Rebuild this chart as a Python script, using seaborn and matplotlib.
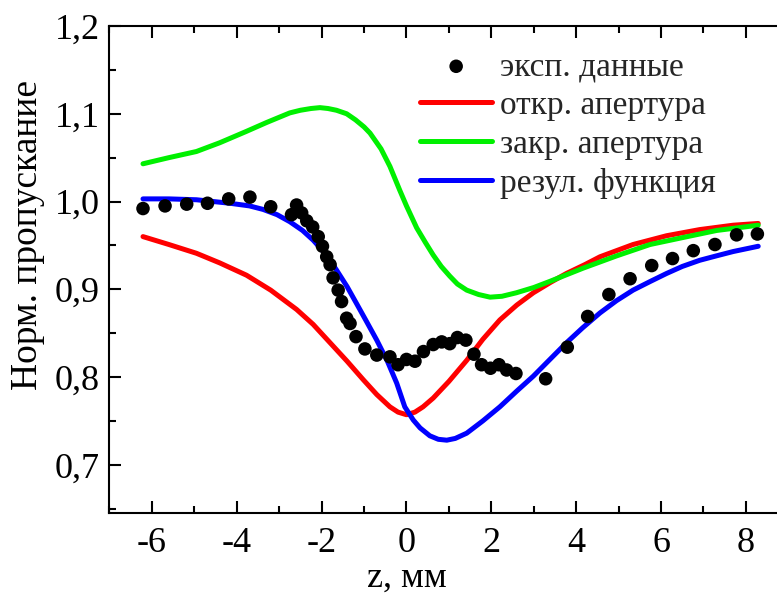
import numpy as np
import pandas as pd
import matplotlib
matplotlib.use("Agg")
import matplotlib.pyplot as plt
from matplotlib.ticker import MultipleLocator, FuncFormatter
import seaborn as sns

# Experimental Z-scan points
z_exp = [-6.21, -5.69, -5.18, -4.69, -4.19, -3.69, -3.20, -2.71, -2.59, -2.47,
         -2.35, -2.21, -2.08, -1.98, -1.88, -1.80, -1.73, -1.61, -1.53, -1.41,
         -1.33, -1.19, -0.98, -0.70, -0.39, -0.20, 0.00, 0.20, 0.40, 0.63,
         0.83, 1.02, 1.20, 1.40, 1.59, 1.77, 1.98, 2.18, 2.36, 2.58,
         3.28, 3.79, 4.27, 4.77, 5.27, 5.78, 6.27, 6.76, 7.27, 7.78, 8.27]
t_exp = [0.992, 0.995, 0.997, 0.998, 1.003, 1.005, 0.994, 0.985, 0.996, 0.987,
         0.978, 0.971, 0.960, 0.949, 0.937, 0.928, 0.913, 0.899, 0.886, 0.867,
         0.861, 0.846, 0.832, 0.825, 0.823, 0.814, 0.820, 0.818, 0.829, 0.837,
         0.840, 0.838, 0.845, 0.842, 0.826, 0.814, 0.810, 0.814, 0.808, 0.804,
         0.798, 0.834, 0.869, 0.894, 0.912, 0.927, 0.935, 0.944, 0.951, 0.962,
         0.963]

# Open-aperture fit
z_open = [-6.21, -5.6, -4.95, -4.4, -3.77, -3.2, -2.59, -2.2, -1.8, -1.4,
          -1.02, -0.7, -0.39, -0.2, 0.0, 0.2, 0.39, 0.63, 1.0, 1.42,
          1.8, 2.2, 2.6, 2.99, 3.4, 3.77, 4.2, 4.56, 5.34, 6.13,
          6.91, 7.70, 8.29]
t_open = [0.960, 0.951, 0.941, 0.930, 0.916, 0.899, 0.877, 0.860, 0.839, 0.818,
          0.797, 0.780, 0.766, 0.760, 0.757, 0.760, 0.766, 0.776, 0.795, 0.819,
          0.843, 0.865, 0.882, 0.896, 0.908, 0.918, 0.928, 0.937, 0.951, 0.961,
          0.968, 0.973, 0.975]

# Closed-aperture fit
z_closed = [-6.21, -5.6, -4.95, -4.4, -3.77, -3.3, -3.0, -2.75, -2.5, -2.25,
            -2.04, -1.85, -1.65, -1.41, -1.2, -1.0, -0.86, -0.6, -0.39, -0.16,
            0.0, 0.24, 0.45, 0.63, 0.82, 1.02, 1.2, 1.42, 1.7, 1.97,
            2.25, 2.59, 3.0, 3.38, 4.16, 4.95, 5.74, 6.52, 7.31, 8.29]
t_closed = [1.043, 1.050, 1.057, 1.067, 1.080, 1.090, 1.096, 1.101, 1.104, 1.106,
            1.107, 1.106, 1.104, 1.100, 1.093, 1.085, 1.078, 1.060, 1.040, 1.013,
            0.995, 0.970, 0.953, 0.939, 0.926, 0.915, 0.906, 0.899, 0.894, 0.891,
            0.892, 0.896, 0.902, 0.909, 0.924, 0.938, 0.951, 0.959, 0.967, 0.973]

# Combined (resulting) function
z_res = [-6.21, -5.6, -4.95, -4.16, -3.7, -3.38, -3.05, -2.75, -2.45, -2.2,
         -1.9, -1.65, -1.4, -1.18, -0.95, -0.7, -0.45, -0.23, -0.04, 0.16,
         0.32, 0.55, 0.75, 0.95, 1.15, 1.42, 1.8, 2.2, 2.6, 2.99,
         3.4, 3.77, 4.15, 4.56, 4.95, 5.34, 5.75, 6.13, 6.5, 6.91,
         7.3, 7.7, 8.29]
t_res = [1.003, 1.003, 1.002, 0.998, 0.995, 0.991, 0.985, 0.977, 0.967, 0.956,
         0.940, 0.922, 0.903, 0.884, 0.864, 0.842, 0.818, 0.793, 0.766, 0.751,
         0.742, 0.733, 0.729, 0.728, 0.730, 0.736, 0.750, 0.766, 0.784, 0.801,
         0.821, 0.839, 0.856, 0.873, 0.887, 0.899, 0.909, 0.918, 0.926, 0.933,
         0.938, 0.943, 0.949]

labels = ["эксп. данные", "откр. апертура", "закр. апертура", "резул. функция"]
colors = ["black", "#ff0000", "#00f000", "#0000ff"]

x_ticks = [-6, -4, -2, 0, 2, 4, 6, 8]
y_ticks = [0.7, 0.8, 0.9, 1.0, 1.1, 1.2]

sns.set_theme(style="ticks")
plt.rcParams["font.family"] = ["Liberation Serif", "DejaVu Serif"]
plt.rcParams["axes.unicode_minus"] = False

fig = plt.figure(figsize=(7.77, 6.01), dpi=100)
ax = fig.add_axes([0.1409, 0.1464, 0.8737, 0.8103])

df_exp = pd.DataFrame({"z": z_exp, "T": t_exp})
sns.scatterplot(data=df_exp, x="z", y="T", ax=ax, color=colors[0], s=95,
                edgecolor="none", label=labels[0], zorder=3)

curves = [(z_open, t_open), (z_closed, t_closed), (z_res, t_res)]
for (zz, tt), lab, col in zip(curves, labels[1:], colors[1:]):
    df = pd.DataFrame({"z": zz, "T": tt})
    sns.lineplot(data=df, x="z", y="T", ax=ax, color=col, linewidth=3.6,
                 label=lab, sort=False, zorder=2)

ax.set_xlim(-7, 9)
ax.set_ylim(0.645, 1.2)
ax.set_xticks(x_ticks)
ax.set_yticks(y_ticks)
ax.xaxis.set_minor_locator(MultipleLocator(1))
ax.yaxis.set_minor_locator(MultipleLocator(0.05))
ax.yaxis.set_major_formatter(FuncFormatter(lambda v, p: f"{v:.1f}".replace(".", ",")))
ax.xaxis.set_major_formatter(FuncFormatter(lambda v, p: f"{v:.0f}"))

for side in ["left", "bottom", "top", "right"]:
    ax.spines[side].set_linewidth(1.5)
    ax.spines[side].set_color("black")
ax.tick_params(which="both", direction="in", top=True, right=False,
               width=1.5, color="black", labelsize=26, labelcolor="black")
ax.tick_params(which="major", length=8.5)
ax.tick_params(which="minor", length=5)
ax.tick_params(axis="x", which="major", pad=10)
ax.tick_params(axis="y", which="major", pad=7)

ax.set_xlabel("z, мм", fontsize=26, color="black")
ax.set_ylabel("Норм. пропускание", fontsize=27, color="black")
ax.xaxis.set_label_coords(0.438, -0.10)
ax.yaxis.set_label_coords(-0.095, 0.571)

leg = ax.legend(loc="upper left", bbox_to_anchor=(0.438, 0.975), frameon=False,
                fontsize=24, handlelength=2.16, handletextpad=0.24,
                labelspacing=0.25, borderaxespad=0.0, markerscale=1.0)

fig.savefig("out.png", dpi=100)
